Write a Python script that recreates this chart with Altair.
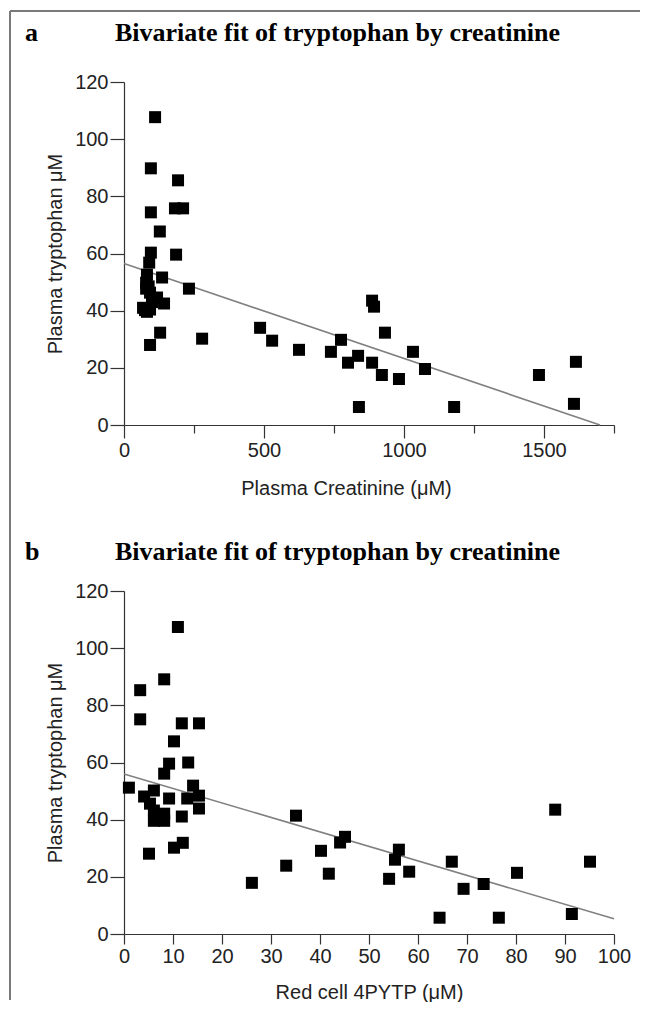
import altair as alt
import pandas as pd

# ---------------- data ----------------
# Panel a: plasma creatinine (uM) vs plasma tryptophan (uM)
creat_a = [111, 96, 193, 96, 182, 211, 128, 96, 186, 90,
           82, 136, 79, 79, 232, 93, 118, 143, 68, 93, 82, 129, 93, 88, 100, 75,
           279, 486, 529, 625, 739, 775, 800, 836, 839, 886, 893, 886, 921, 932,
           982, 1032, 1075, 1179, 1482, 1614, 1607]
trp_a = [107.7, 89.8, 85.6, 74.4, 75.8, 75.8, 67.7, 60.3, 59.6, 56.8,
         52.6, 51.6, 49.8, 47.7, 47.7, 46.3, 44.6, 42.5, 41.0, 40.4, 39.6, 32.3, 28.0, 48.5, 43.0, 40.2,
         30.2, 34.0, 29.5, 26.3, 25.6, 29.8, 21.8, 24.2, 6.3, 43.5, 41.4, 21.8, 17.5, 32.3,
         16.1, 25.6, 19.6, 6.3, 17.5, 22.1, 7.4]

# Panel b: red cell 4PYTP (uM) vs plasma tryptophan (uM)
pytp_b = [11.0, 8.2, 3.3, 3.3, 11.8, 15.3, 10.2, 9.2, 13.1, 8.2,
          1.0, 14.1, 4.1, 6.1, 9.2, 12.9, 5.3, 15.3, 15.3, 6.1, 8.2, 6.1, 8.2, 11.8, 12.0, 10.2, 5.1,
          35.1, 45.1, 44.1, 40.2, 33.1, 41.8, 56.1, 55.3, 58.2, 54.1, 66.9, 80.2, 88.0, 95.1,
          26.1, 64.4, 69.3, 73.4, 76.5, 91.4]
trp_b = [107.4, 89.1, 85.3, 75.1, 73.7, 73.7, 67.4, 59.6, 60.0, 56.1,
         51.2, 51.9, 48.1, 50.2, 47.4, 47.4, 45.6, 48.4, 43.9, 43.2, 42.1, 39.6, 39.6, 41.1, 31.9, 30.2, 28.1,
         41.4, 34.0, 32.0, 29.1, 23.9, 21.1, 29.5, 26.0, 21.8, 19.3, 25.3, 21.4, 43.5, 25.3,
         17.9, 5.7, 15.8, 17.5, 5.7, 7.0]

# Fitted lines (end points)
fit_a_x = [0, 1700]
fit_a_y = [56.5, 0.0]
fit_b_x = [0, 100]
fit_b_y = [56.0, 5.3]

# Axis ticks
y_ticks = [0, 20, 40, 60, 80, 100, 120]
x_ticks_a = [0, 250, 500, 750, 1000, 1250, 1500, 1750]
x_ticks_b = [0, 10, 20, 30, 40, 50, 60, 70, 80, 90, 100]

panel_letters = ["a", "b"]
panel_title = "Bivariate fit of tryptophan by creatinine"

# ---------------- tables ----------------
df_a = pd.DataFrame({"x": creat_a, "y": trp_a})
df_b = pd.DataFrame({"x": pytp_b, "y": trp_b})
fit_a = pd.DataFrame({"x": fit_a_x, "y": fit_a_y})
fit_b = pd.DataFrame({"x": fit_b_x, "y": fit_b_y})
frame_df = pd.DataFrame({"edge": ["frame"]})

AX_FONT = "Liberation Sans"
W, H = 490, 343

common_axis = dict(grid=False, domainColor="#333", tickColor="#333", domainWidth=1.2,
                   tickWidth=1.2, labelColor="#222", titleColor="#222",
                   labelFont=AX_FONT, titleFont=AX_FONT, labelFontSize=20,
                   titleFontSize=20, titleFontWeight="normal", labelFlush=False,
                   labelOverlap=False)

y_axis = alt.Axis(values=y_ticks, tickSize=14, labelPadding=2, titlePadding=9,
                  title="Plasma tryptophan \u03bcM", **common_axis)
y_enc = alt.Y("y:Q", scale=alt.Scale(domain=[0, 120], nice=False), axis=y_axis)

xa_axis = alt.Axis(values=x_ticks_a, format="d",
                   labelExpr="datum.value % 500 === 0 ? datum.label : ''",
                   tickSize={"condition": {"test": "datum.value % 500 === 0", "value": 13}, "value": 8},
                   labelPadding=2, titlePadding=18, titleX=222,
                   title="Plasma Creatinine (\u03bcM)", **common_axis)
xa_enc = alt.X("x:Q", scale=alt.Scale(domain=[0, 1750], nice=False), axis=xa_axis)

xb_axis = alt.Axis(values=x_ticks_b, format="d", tickSize=10, labelPadding=2,
                   titlePadding=16, title="Red cell 4PYTP (\u03bcM)", **common_axis)
xb_enc = alt.X("x:Q", scale=alt.Scale(domain=[0, 100], nice=False), axis=xb_axis)

FRAME_COLOR = "#7a7a7a"
frame_v = alt.Chart(frame_df).mark_rule(color=FRAME_COLOR, strokeWidth=2).encode(
    x=alt.value(-114), y=alt.value(-71), y2=alt.value(918))
frame_h = alt.Chart(frame_df).mark_rule(color=FRAME_COLOR, strokeWidth=2).encode(
    x=alt.value(-114), x2=alt.value(516), y=alt.value(-71))


def title_marks(letter, y_base):
    base = alt.Chart(frame_df)
    style = dict(font="Liberation Serif", fontSize=26, fontWeight="bold", color="black",
                 align="left", baseline="alphabetic")
    t_letter = base.mark_text(text=letter, **style).encode(x=alt.value(-99), y=alt.value(y_base))
    t_main = base.mark_text(text=panel_title, **style).encode(x=alt.value(-9), y=alt.value(y_base))
    return [t_letter, t_main]


def panel(df, fit, x_enc, extra):
    pts = alt.Chart(df).mark_square(size=144, color="black", opacity=1).encode(x=x_enc, y=y_enc)
    line = alt.Chart(fit).mark_line(color="#808080", strokeWidth=1.6).encode(x=x_enc, y=y_enc)
    return alt.layer(*extra, line, pts).properties(width=W, height=H)


panel_a = panel(df_a, fit_a, xa_enc, [frame_v, frame_h] + title_marks(panel_letters[0], -41))
panel_b = panel(df_b, fit_b, xb_enc, title_marks(panel_letters[1], -31))

chart = alt.vconcat(panel_a, panel_b, spacing=166, bounds="flush").properties(
    padding={"left": 1, "top": 2, "right": 0, "bottom": 0},
    background="white",
).configure_view(stroke=None)

chart.save("out.html", embed_options={"renderer": "svg", "actions": False})
